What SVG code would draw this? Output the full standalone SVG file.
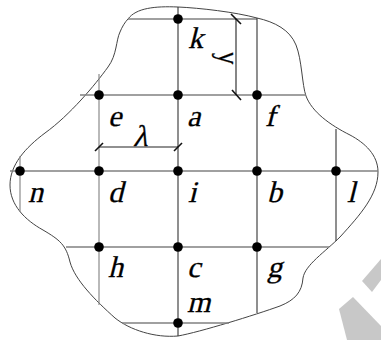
<svg xmlns="http://www.w3.org/2000/svg" width="381" height="340" viewBox="0 0 381 340">
<style>
.bg{fill:#fff}
.outline{fill:none;stroke:#444;stroke-width:1}
.h{stroke:#808080;stroke-width:1.3;fill:none}
.vg{stroke:#8a8a8a;stroke-width:1.2;fill:none}
.v{stroke:#333;stroke-width:1.1;fill:none}
.dim{stroke:#222;stroke-width:1.1;fill:none}
.tick{stroke:#111;stroke-width:1.6}
.dot{fill:#000}
.wm{fill:#c8c8c8}
text{stroke:#000;stroke-width:0.3}
</style>
<rect class="bg" x="0" y="0" width="381" height="340"/>
<path class="wm" d="M362,281 L381,259 L381,280 L372,292 Z"/>
<path class="wm" d="M339,309 L353,297 L381,326 L381,340 L347,340 Z"/>
<path id="boundary" class="outline" d="M128,19 C136,8 155,6 178,7 C200,8 235,12 257,18 C275,22 290,30 296,45 C302,60 302,85 306,96 C312,112 330,125 350,135 C365,143 378,155 378,172 C378,195 360,215 340,237 C325,252 305,265 303,278 C302,292 295,300 280,306 C255,315 200,332 178,336 C155,338 130,330 115,318 C95,300 75,280 70,262 C66,245 60,240 43,230 C25,220 10,205 10,185 C10,165 25,148 45,133 C70,115 95,85 108,67 C117,55 116,40 120,32 C122,27 125,22 128,19 Z"/>
<g id="connectors">
<line class="h" x1="128" y1="19" x2="257" y2="19"/>
<line class="h" x1="80" y1="95" x2="306" y2="95"/>
<line class="h" x1="10" y1="171" x2="378" y2="171"/>
<line class="h" x1="66" y1="247" x2="329" y2="247"/>
<line class="h" x1="122" y1="323" x2="229" y2="323"/>
<line class="vg" x1="20" y1="156" x2="20" y2="212"/>
<line class="vg" x1="99" y1="74" x2="99" y2="305"/>
<line class="v" x1="178" y1="7" x2="178" y2="336"/>
<line class="v" x1="257" y1="18" x2="257" y2="313"/>
<line class="v" x1="336" y1="129" x2="336" y2="241"/>
</g>
<g font-family="'Liberation Serif', serif" font-style="normal" font-size="30" fill="#000">
<g id="dim-horizontal">
<line class="dim" x1="99" y1="147" x2="178" y2="147"/>
<line class="tick" x1="95" y1="151" x2="103" y2="143"/>
<line class="tick" x1="174" y1="151" x2="182" y2="143"/>
<text transform="translate(133,146) skewX(-14)">λ</text>
</g>
<g id="dim-vertical">
<line class="dim" x1="236" y1="19" x2="236" y2="95"/>
<line class="tick" x1="231" y1="14" x2="241" y2="24"/>
<line class="tick" x1="232" y1="90" x2="241" y2="100"/>
<text transform="matrix(0,0.85,1,0,233,52)">λ</text>
</g>
<g id="node-k"><circle class="dot" cx="178" cy="19" r="4.8"/><text transform="translate(188,48) skewX(-14)">k</text></g>
<g id="node-e"><circle class="dot" cx="99" cy="95" r="4.8"/><text transform="translate(108,126) skewX(-14)">e</text></g>
<g id="node-a"><circle class="dot" cx="178" cy="95" r="4.8"/><text transform="translate(187,126) skewX(-14)">a</text></g>
<g id="node-f"><circle class="dot" cx="257" cy="95" r="4.8"/><text transform="translate(265,126) skewX(-14)">f</text></g>
<g id="node-n"><circle class="dot" cx="20" cy="171" r="4.8"/><text transform="translate(28,202) skewX(-14)">n</text></g>
<g id="node-d"><circle class="dot" cx="99" cy="171" r="4.8"/><text transform="translate(108,202) skewX(-14)">d</text></g>
<g id="node-i"><circle class="dot" cx="178" cy="171" r="4.8"/><text transform="translate(188,202) skewX(-14)">i</text></g>
<g id="node-b"><circle class="dot" cx="257" cy="171" r="4.8"/><text transform="translate(267,202) skewX(-14)">b</text></g>
<g id="node-l"><circle class="dot" cx="336" cy="171" r="4.8"/><text transform="translate(347,202) skewX(-14)">l</text></g>
<g id="node-h"><circle class="dot" cx="99" cy="247" r="4.8"/><text transform="translate(108,277) skewX(-14)">h</text></g>
<g id="node-c"><circle class="dot" cx="178" cy="247" r="4.8"/><text transform="translate(187,277) skewX(-14)">c</text></g>
<g id="node-g"><circle class="dot" cx="257" cy="247" r="4.8"/><text transform="translate(267,277) skewX(-14)">g</text></g>
<g id="node-m"><circle class="dot" cx="178" cy="323" r="4.8"/><text transform="translate(187,312) skewX(-14)">m</text></g>
</g>
</svg>
